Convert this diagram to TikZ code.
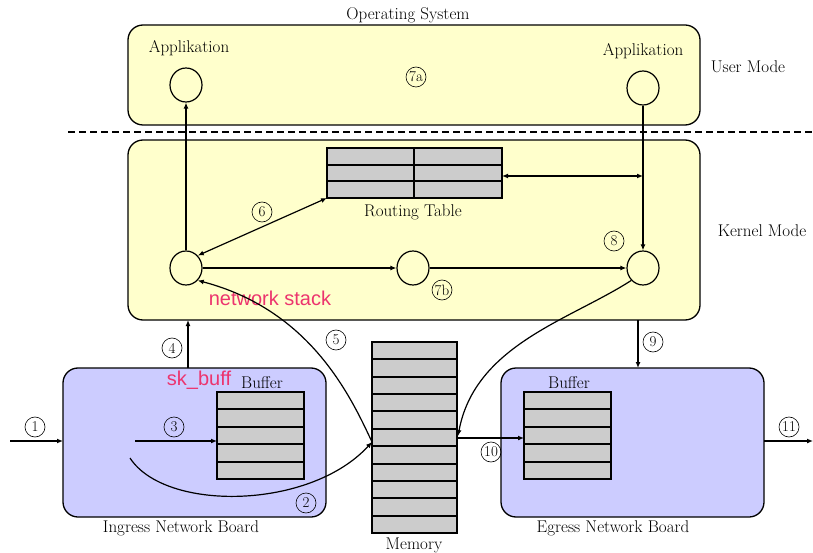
\documentclass[tikz,border=0pt]{standalone}
\usepackage{fontspec}
\newfontfamily\pinkfont{Liberation Sans}
\usetikzlibrary{arrows.meta}
\definecolor{ylw}{RGB}{255,255,204}
\definecolor{lav}{RGB}{204,204,255}
\definecolor{cellgray}{RGB}{204,204,204}
\definecolor{pink}{RGB}{236,52,110}
\tikzset{
  box/.style={draw=black,line width=1.3pt,rounded corners=15pt},
  lbl/.style={font=\fontsize{17}{19}\selectfont},
  num/.style={draw,circle,line width=0.6pt,inner sep=0.3pt,minimum size=20pt,font=\fontsize{15}{17}\selectfont},
  proc/.style={draw,ellipse,line width=1.2pt,minimum width=32pt,minimum height=34pt,inner sep=0pt},
  arr/.style={line width=1.2pt,-{Latex[length=6pt,width=5pt]}},
  darr/.style={line width=1.2pt,{Latex[length=6pt,width=5pt]}-{Latex[length=6pt,width=5pt]}},
  cell/.style={draw,line width=1.5pt,fill=cellgray},
  cline/.style={line width=1.5pt},
  pinktxt/.style={text=pink,font=\pinkfont\fontsize{20}{22}\selectfont}
}
\usetikzlibrary{shapes.geometric}
\begin{document}
\begin{tikzpicture}[x=1pt,y=-1pt]
\useasboundingbox (0,0) rectangle (813,553);
% boxes
\draw[box,fill=ylw] (128,25) rectangle (700,125);
\draw[box,fill=ylw] (128,140) rectangle (700,320);
\draw[box,fill=lav] (63,368) rectangle (326,517);
\draw[box,fill=lav] (501,368) rectangle (764,517);
\node[lbl] (os) at (408,15) {Operating System};
\node[lbl] (um) at (748,67) {User Mode};
\node[lbl] (km) at (762,231) {Kernel Mode};
\node[lbl] (ing) at (181,528) {Ingress Network Board};
\node[lbl] (egr) at (613,528) {Egress Network Board};
\coordinate (dl) at (68,132);
\coordinate (dr) at (813,132);
\draw[line width=1.2pt,dash pattern=on 7pt off 4pt] (dl) -- (dr);
% applications
\node[lbl] (appLl) at (189,48) {Applikation};
\node[lbl] (appRl) at (643,51) {Applikation};
\node[proc] (appL) at (186,85) {};
\node[proc] (appR) at (643,88) {};
\node[num] (n7a) at (416,77) {7a};
% routing table
\draw[cell] (327,148) rectangle (502,198);
\draw[cline] (327,165) -- (502,165);
\draw[cline] (327,181) -- (502,181);
\draw[cline] (414,148) -- (414,198);
\coordinate (rtR) at (502,176);
\coordinate (rtBL) at (327,198);
\node[lbl] (rtl) at (413,212) {Routing Table};
% kernel nodes
\node[proc] (kL) at (186,268) {};
\node[proc] (kM) at (413,268) {};
\node[proc] (kR) at (643,268) {};
\node[num] (n6) at (262,212) {6};
\node[num] (n8) at (614,241) {8};
\node[num] (n7b) at (442,290) {7b};
\node[pinktxt] (ns) at (270,298) {network stack};
\draw[arr] (kL) -- (kM);
\draw[arr] (kM) -- (kR);
\draw[arr] (kL.north) -- (appL.south);
\draw[arr] (appR.south) -- (kR.north);
\coordinate (rtline) at (643,176);
\draw[darr] (rtR) -- (rtline);
\draw[darr] (rtBL) -- (kL.north east);
% memory
\draw[cell] (372,342) rectangle (457,533);
\foreach \r in {1,...,10}{
  \pgfmathsetmacro{\yy}{342+round(\r*17.36)}
  \draw[cline] (372,\yy) -- (457,\yy);
}
\node[lbl] (meml) at (414,545) {Memory};
\coordinate (memIn) at (372,442);
\coordinate (memOut) at (458,436);
\coordinate (memOut2) at (458,438);
% ingress buffer
\draw[cell] (217,392) rectangle (304,479);
\foreach \r in {1,...,4}{
  \pgfmathsetmacro{\yy}{392+round(\r*17.4)}
  \draw[cline] (217,\yy) -- (304,\yy);
}
\node[lbl] (ibl) at (262,383) {Buffer};
\node[pinktxt] (skb) at (199,380) {sk\_buff};
\coordinate (ibIn) at (217,441);
% egress buffer
\draw[cell] (524,392) rectangle (611,479);
\foreach \r in {1,...,4}{
  \pgfmathsetmacro{\yy}{392+round(\r*17.4)}
  \draw[cline] (524,\yy) -- (611,\yy);
}
\node[lbl] (ebl) at (569,383) {Buffer};
\coordinate (ebIn) at (524,438);
% arrows
\coordinate (in1) at (10,441);
\coordinate (ingL) at (63,441);
\draw[arr] (in1) -- (ingL);
\node[num] (n1) at (35,427) {1};
\coordinate (a3s) at (135,441);
\draw[arr] (a3s) -- (ibIn);
\node[num] (n3) at (174,427) {3};
\coordinate (c2s) at (130,458);
\draw[arr] (c2s) .. controls (165,512) and (310,510) .. (memIn);
\node[num] (n2) at (306,503) {2};
\draw[arr] (memIn) .. controls (350,395) and (310,310) .. (kL.south east);
\node[num] (n5) at (336,340) {5};
\coordinate (a4s) at (188,368);
\coordinate (a4e) at (188,320);
\draw[arr] (a4s) -- (a4e);
\node[num] (n4) at (172,348) {4};
\coordinate (a9s) at (638,320);
\coordinate (a9e) at (638,368);
\draw[arr] (a9s) -- (a9e);
\node[num] (n9) at (653,342) {9};
\draw[arr] (kR.south west) .. controls (570,320) and (475,345) .. (memOut);
\draw[arr] (memOut2) -- (ebIn);
\node[num] (n10) at (491,452) {10};
\coordinate (egR) at (764,441);
\coordinate (out11) at (813,441);
\draw[arr] (egR) -- (out11);
\node[num] (n11) at (789,427) {11};
\end{tikzpicture}
\end{document}
